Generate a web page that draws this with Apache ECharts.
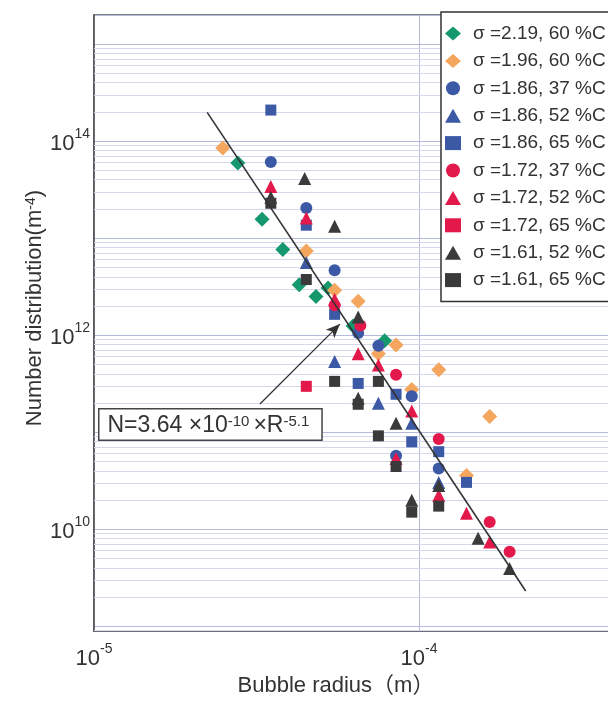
<!DOCTYPE html>
<html><head><meta charset="utf-8">
<script src="https://cdn.jsdelivr.net/npm/echarts@6/dist/echarts.min.js"></script>
<style>html,body{margin:0;padding:0;background:#fff;overflow:hidden;width:608px;height:702px}#c{width:760px;height:702px}</style>
</head><body><div id="c"></div>
<script>
// ---- data (bubble radius [m], number distribution [m^-4]) ----
const seriesNames = ['σ =2.19, 60 %C','σ =1.96, 60 %C','σ =1.86, 37 %C','σ =1.86, 52 %C','σ =1.86, 65 %C',
                     'σ =1.72, 37 %C','σ =1.72, 52 %C','σ =1.72, 65 %C','σ =1.61, 52 %C','σ =1.61, 65 %C'];
const sig219_60 = [[2.77e-5,5.96e13],[3.29e-5,1.57e13],[3.81e-5,7.65e12],[4.28e-5,3.31e12],[4.82e-5,2.5e12],[5.25e-5,3.07e12],[6.27e-5,1.24e12],[7.84e-5,8.75e11]];
const sig196_60 = [[2.49e-5,8.48e13],[4.5e-5,7.37e12],[5.5e-5,2.9e12],[6.5e-5,2.24e12],[7.5e-5,6.44e11],[8.5e-5,7.9e11],[9.5e-5,2.75e11],[1.15e-4,4.4e11],[1.4e-4,3.58e10],[1.65e-4,1.45e11]];
const sig186_37 = [[3.5e-5,6.1e13],[4.5e-5,2.04e13],[5.5e-5,4.67e12],[6.5e-5,1.05e12],[7.5e-5,7.78e11],[9.5e-5,2.35e11],[8.5e-5,5.73e10],[1.15e-4,4.22e10]];
const sig186_52 = [[4.5e-5,5.6e12],[5.5e-5,5.34e11],[7.5e-5,1.99e11],[9.5e-5,1.24e11],[1.15e-4,3.04e10]];
const sig186_65 = [[3.5e-5,2.09e14],[4.5e-5,1.36e13],[5.5e-5,1.64e12],[6.5e-5,3.18e11],[8.5e-5,2.46e11],[9.5e-5,7.96e10],[1.15e-4,6.3e10],[1.4e-4,3.04e10]];
const sig172_37 = [[5.5e-5,2.04e12],[6.6e-5,1.26e12],[8.5e-5,3.91e11],[1.15e-4,8.49e10],[1.65e-4,1.19e10],[1.9e-4,5.87e9]];
const sig172_52 = [[3.5e-5,3.4e13],[4.5e-5,1.61e13],[5.5e-5,2.34e12],[6.5e-5,6.44e11],[7.5e-5,4.94e11],[9.5e-5,1.65e11],[8.5e-5,5.35e10],[1.15e-4,2.24e10],[1.4e-4,1.46e10],[1.65e-4,7.37e9]];
const sig172_65 = [[4.5e-5,2.97e11]];
const sig161_52 = [[3.5e-5,2.64e13],[4.45e-5,4.12e13],[5.5e-5,1.33e13],[6.5e-5,1.54e12],[6.5e-5,2.24e11],[8.5e-5,1.24e11],[9.5e-5,1.99e10],[1.15e-4,2.83e10],[1.52e-4,8.09e9],[1.9e-4,3.94e9]];
const sig161_65 = [[3.5e-5,2.29e13],[4.5e-5,3.75e12],[5.5e-5,3.34e11],[7.5e-5,3.34e11],[6.5e-5,1.94e11],[7.5e-5,9.17e10],[8.5e-5,4.43e10],[9.5e-5,1.5e10],[1.15e-4,1.73e10]];
const fitLine = [[2.23e-5,1.98e14],[2.13e-4,2.31e9]];
const fitArrow = [[3.24e-5,1.95e11],[5.71e-5,1.30e12]];
const fitLabel = 'N=3.64 ×10{s|-10}×R{s|-5.1}';
const xTickExponents = [-5,-4];
const yTickExponents = [10,12,14];
const minorMultipliers = [2,3,4,5,6,7,8,9];
const xDecades = [-5,-4];
const yDecades = [8,9,10,11,12,13,14,15];

// ---- styles ----
const seriesData = [sig219_60,sig196_60,sig186_37,sig186_52,sig186_65,sig172_37,sig172_52,sig172_65,sig161_52,sig161_65];
const GREEN='#16986f', ORANGE='#f5a65e', BLUE='#3c59a5', RED='#e3184b', DARK='#3a3a3a';
const styles = [
  ['diamond',15,GREEN],['diamond',15,ORANGE],['circle',12,BLUE],['triangle',13,BLUE],['rect',11,BLUE],
  ['circle',12,RED],['triangle',13,RED],['rect',11,RED],['triangle',13,DARK],['rect',11,DARK]
];
const FONT = '"Liberation Sans", Arial, "Noto Sans CJK JP", sans-serif';
const yMin = Math.pow(10, 8.95), yMax = Math.pow(10, 15.3);

const minorX = [], minorY = [];
xDecades.forEach(d => minorMultipliers.forEach(m => minorX.push({xAxis: m*Math.pow(10,d)})));
yDecades.forEach(d => minorMultipliers.forEach(m => { const v = m*Math.pow(10,d); if (v>yMin && v<yMax) minorY.push({yAxis: v}); }));

function powLabel(list){
  return function(v){
    const e = Math.log10(v), r = Math.round(e);
    if (Math.abs(e-r) > 1e-6 || list.indexOf(r) < 0) return '';
    return '{b|10}{s|' + r + '}';
  };
}
const labelRich = {
  b:{fontSize:22, fontFamily:FONT, color:'#333', lineHeight:28, verticalAlign:'bottom'},
  s:{fontSize:14, fontFamily:FONT, color:'#333', lineHeight:16, verticalAlign:'top'}
};

const series = seriesData.map((d,i) => ({
  name: seriesNames[i], type:'scatter', data:d, z:3,
  symbol: styles[i][0], symbolSize: styles[i][1],
  itemStyle:{color: styles[i][2], opacity:1}
}));
series.unshift({
  type:'line', data:[[1e-5,yMin]], symbol:'none', silent:true, z:1,
  lineStyle:{width:0},
  markLine:{silent:true, z:1, symbol:['none','none'], label:{show:false},
    lineStyle:{color:'#d4d8ec', width:1, type:'solid'}, animation:false,
    data: minorX.concat(minorY)}
});
series.push({
  type:'line', data:fitLine, symbol:'none', z:5, silent:true,
  lineStyle:{color:'#333', width:1.6},
  markLine:{silent:true, z:5, symbol:['none','arrow'], symbolSize:[9,14], label:{show:false},
    lineStyle:{color:'#333', width:1.3, type:'solid'}, animation:false,
    data:[[{coord:fitArrow[0]},{coord:fitArrow[1]}]]}
});

const chart = echarts.init(document.getElementById('c'), null, {renderer:'canvas'});
chart.setOption({
  animation:false,
  backgroundColor:'#fff',
  grid:{left:94, right:16, top:15, bottom:64, show:true, borderColor:'#555', borderWidth:1.6, backgroundColor:'transparent'},
  xAxis:{type:'log', logBase:10, min:1e-5, max:1e-3, splitNumber:2,
    axisLine:{show:true, lineStyle:{color:'#555', width:1.6}}, axisTick:{show:false},
    splitLine:{show:true, lineStyle:{color:'#b3bada', width:1}},
    axisLabel:{formatter: powLabel(xTickExponents), rich: labelRich, margin:11, showMinLabel:true},
    name:'Bubble radius（m）', nameLocation:'middle', nameGap:42,
    nameTextStyle:{fontSize:22, fontFamily:FONT, color:'#333', padding:[0,166,0,0]}
  },
  yAxis:{type:'log', logBase:10, min:yMin, max:yMax, splitNumber:6,
    axisLine:{show:true, lineStyle:{color:'#555', width:1.6}}, axisTick:{show:false},
    splitLine:{show:true, lineStyle:{color:'#b3bada', width:1}},
    axisLabel:{formatter: powLabel(yTickExponents), rich: labelRich, margin:4},
    name:'Number distribution(m{s|-4})', nameLocation:'middle', nameGap:48, nameRotate:90,
    nameMoveOverlap:false,
    nameTextStyle:{fontSize:22, fontFamily:FONT, color:'#333', padding:[0,0,0,30],
      rich:{s:{fontSize:14, fontFamily:FONT, color:'#333', lineHeight:14, verticalAlign:'top'}}}
  },
  legend:{data:seriesNames, orient:'vertical', left:441, top:12, selectedMode:false, z:10,
    itemWidth:16, itemHeight:14, itemGap:8.4, padding:[12,20,12,4],
    backgroundColor:'#fff', borderColor:'#333', borderWidth:1.5,
    textStyle:{fontSize:19, fontFamily:FONT, color:'#333', padding:[0,0,0,7]}},
  graphic:[{type:'text', left:98, top:408, z:10,
    style:{text: fitLabel, fill:'#333', font:'23px ' + FONT,
      rich:{s:{fontSize:15, fontFamily:FONT, fill:'#333', lineHeight:15, verticalAlign:'top', padding:[0,4,0,0]}},
      backgroundColor:'#fff', borderColor:'#444', borderWidth:1.5, padding:[5,8,2,8]}}],
  series: series
});
</script></body></html>
